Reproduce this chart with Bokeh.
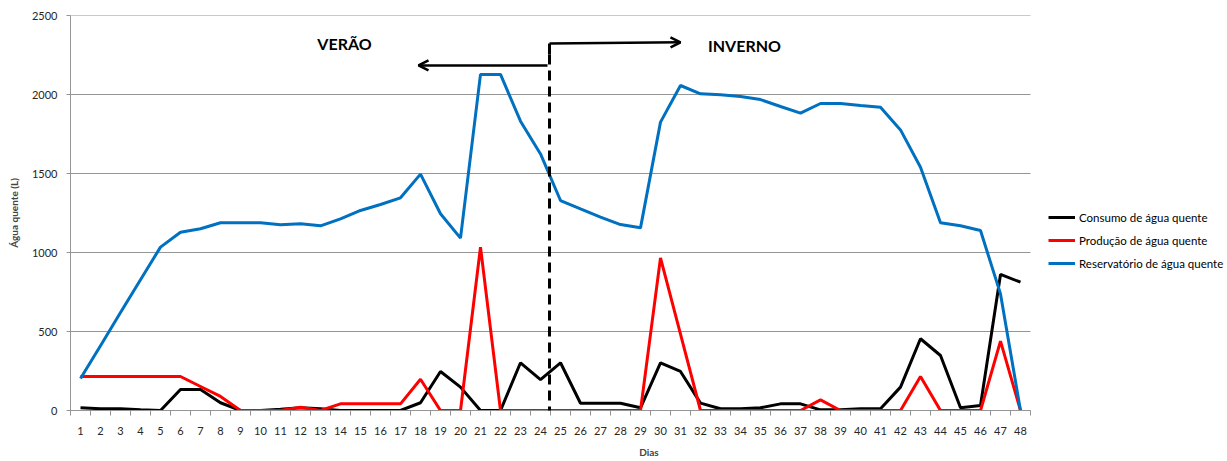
from bokeh.plotting import figure
from bokeh.models import (Range1d, FixedTicker, Legend, LegendItem, Arrow,
                          OpenHead, Label)
from bokeh.embed import file_html
from bokeh.resources import INLINE

# Daily hot-water balance (litres) over 48 days
dias = list(range(1, 49))

consumo = [17, 11, 11, 4, 0, 133, 133, 49, 0, 0,
           8, 17, 11, 0, 0, 0, 0, 49, 247, 148,
           0, 0, 302, 196, 302, 46, 46, 46, 17, 302,
           247, 47, 11, 11, 17, 42, 42, 4, 5, 11,
           11, 148, 454, 348, 17, 32, 861, 812]

producao = [215, 215, 215, 215, 215, 215, 152, 89, 0, 0,
            0, 21, 0, 42, 42, 42, 42, 198, 0, 0,
            1034, 0, 0, 0, 0, 0, 0, 0, 0, 966,
            483, 0, 0, 0, 0, 0, 0, 67, 0, 0,
            0, 0, 215, 0, 0, 0, 439, 0]

reservatorio = [202, 410, 620, 828, 1034, 1128, 1150, 1188, 1188, 1188,
                1175, 1182, 1169, 1213, 1266, 1304, 1346, 1496, 1245, 1091,
                2127, 2127, 1831, 1624, 1329, 1276, 1224, 1177, 1156, 1825,
                2057, 2004, 1998, 1987, 1968, 1924, 1882, 1943, 1943, 1930,
                1920, 1776, 1540, 1188, 1169, 1139, 738, 0]

series_names = ["Consumo de água quente", "Produção de água quente",
                "Reservatório de água quente"]
series_colors = ["#000000", "#ff0000", "#0070c0"]

y_ticks = [0, 500, 1000, 1500, 2000, 2500]

FONT = "Lato"
GRAY = "#959595"

# The frame runs to the right edge so the legend can sit beside the data;
# the days occupy 0.5..48.5 and everything else stays inside those bounds.
X_LO, X_HI = 0.5, 48.5
X_END = 58.35

p = figure(width=1227, height=461, output_backend="svg", toolbar_location=None,
           x_range=Range1d(X_LO, X_END), y_range=Range1d(0, 2500),
           min_border_left=70, min_border_right=0,
           min_border_top=15, min_border_bottom=51)
p.outline_line_color = None
p.background_fill_color = "white"
p.border_fill_color = "white"

# horizontal grid lines limited to the day span
p.xgrid.grid_line_color = None
p.ygrid.grid_line_color = None
p.segment(x0=X_LO, x1=X_HI, y0=y_ticks, y1=y_ticks,
          line_color=GRAY, line_width=1)

# x axis: day labels centred, tick marks between days
xa = p.xaxis[0]
xa.bounds = (X_LO, X_HI)
xa.ticker = FixedTicker(ticks=dias, minor_ticks=[d + 0.5 for d in range(0, 49)])
xa.major_tick_out = 0
xa.major_tick_in = 0
xa.minor_tick_out = 5
xa.minor_tick_in = 0
xa.minor_tick_line_color = GRAY
xa.axis_line_color = GRAY
xa.major_label_text_font = FONT
xa.major_label_text_font_size = "11px"
xa.major_label_text_color = "#262626"
xa.major_label_standoff = 11
xa.axis_label = "Dias"
xa.axis_label_text_font = FONT
xa.axis_label_text_font_size = "10px"
xa.axis_label_text_font_style = "bold"
xa.axis_label_standoff = 8

ya = p.yaxis[0]
ya.ticker = FixedTicker(ticks=y_ticks)
ya.major_tick_out = 4
ya.major_tick_in = 0
ya.minor_tick_out = 0
ya.minor_tick_in = 0
ya.major_tick_line_color = GRAY
ya.axis_line_color = GRAY
ya.major_label_text_font = FONT
ya.major_label_text_font_size = "11px"
ya.major_label_text_color = "#262626"
ya.major_label_standoff = 9
ya.axis_label = "Água quente (L)"
ya.axis_label_text_font = FONT
ya.axis_label_text_font_size = "10px"
ya.axis_label_text_font_style = "bold"
ya.axis_label_standoff = 9

# series
renderers = []
for vals, color in zip([consumo, producao, reservatorio], series_colors):
    r = p.line(dias, vals, line_color=color, line_width=3)
    renderers.append(r)

legend = Legend(items=[LegendItem(label=n, renderers=[r])
                       for n, r in zip(series_names, renderers)],
                location=(978, 139))
legend.label_text_font = FONT
legend.label_text_font_size = "11.5px"
legend.label_text_color = "#000000"
legend.glyph_width = 27
legend.glyph_height = 16
legend.label_height = 16
legend.spacing = 7
legend.padding = 0
legend.margin = 0
legend.label_standoff = 4
legend.border_line_color = None
legend.background_fill_alpha = 0
p.add_layout(legend)

# season divider between day 24 and day 25
split_x = 24.45
p.add_layout(Arrow(x_start=split_x, y_start=2323, x_end=split_x, y_end=2253,
                   end=None, line_width=3, line_color="black"))
p.add_layout(Arrow(x_start=split_x, y_start=2253, x_end=split_x, y_end=-190,
                   end=None, line_width=3, line_color="black",
                   line_dash="10 6"))
p.add_layout(Arrow(x_start=split_x, y_start=2323, x_end=31.0, y_end=2330,
                   end=OpenHead(size=10, line_width=2.5, line_color="black"),
                   line_width=2.5, line_color="black"))
p.add_layout(Arrow(x_start=24.35, y_start=2184, x_end=17.9, y_end=2184,
                   end=OpenHead(size=10, line_width=2.5, line_color="black"),
                   line_width=2.5, line_color="black"))

for txt, x, y in [("VERÃO", 14.2, 2323), ("INVERNO", 34.2, 2310)]:
    p.add_layout(Label(x=x, y=y, text=txt, text_align="center",
                       text_baseline="middle", text_font=FONT,
                       text_font_size="16px", text_font_style="bold",
                       text_color="black"))

open("out.html", "w").write(file_html(p, INLINE))
